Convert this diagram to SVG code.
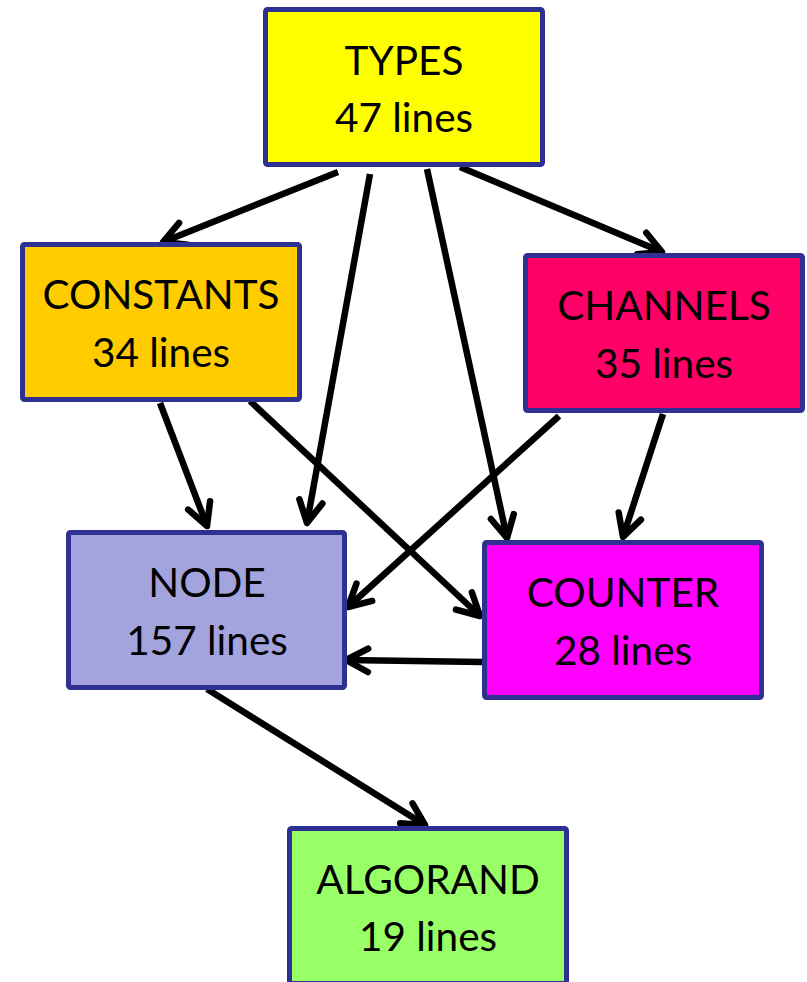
<svg xmlns="http://www.w3.org/2000/svg" width="807" height="982" viewBox="0 0 807 982">
  <style>
    .box { stroke: #2f3192; stroke-width: 5; }
    .label { font-family: Lato, "Open Sans", "Liberation Sans", sans-serif; font-size: 40.5px; fill: #000; text-anchor: middle; }
    .edge { stroke: #000; stroke-width: 6.5; fill: none; marker-end: url(#head); }
  </style>
  <defs>
    <marker id="head" markerUnits="userSpaceOnUse" orient="auto" refX="0" refY="0" markerWidth="40" markerHeight="40" overflow="visible">
      <path d="M -22 -11.7 L 0 0 L -22 11.7" fill="none" stroke="#000" stroke-width="6.5" stroke-linecap="round" stroke-linejoin="round"/>
    </marker>
  </defs>

  <rect width="807" height="982" fill="#ffffff"/>

  <g id="connectors">
    <line class="edge" x1="338" y1="172" x2="163" y2="242"/>
    <line class="edge" x1="370" y1="174" x2="307" y2="523"/>
    <line class="edge" x1="427" y1="169" x2="507" y2="538"/>
    <line class="edge" x1="460" y1="167" x2="662" y2="252"/>
    <line class="edge" x1="160" y1="403" x2="207" y2="526"/>
    <line class="edge" x1="250" y1="401" x2="480" y2="616"/>
    <line class="edge" x1="559" y1="416" x2="348" y2="607"/>
    <line class="edge" x1="663" y1="414" x2="623" y2="537"/>
    <line class="edge" x1="482" y1="662" x2="346" y2="660"/>
    <line class="edge" x1="207" y1="689" x2="425" y2="825"/>
  </g>

  <g id="types">
    <rect class="box" x="265.5" y="9.5" width="277" height="155" rx="2" fill="#ffff00"/>
    <text class="label" x="404" y="75">TYPES</text>
    <text class="label" x="404" y="132">47 lines</text>
  </g>

  <g id="constants">
    <rect class="box" x="22.5" y="244.5" width="277" height="155" rx="2" fill="#ffcc00"/>
    <text class="label" x="161" y="309">CONSTANTS</text>
    <text class="label" x="161" y="367">34 lines</text>
  </g>

  <g id="channels">
    <rect class="box" x="525.5" y="255.5" width="277" height="155" rx="2" fill="#ff0066"/>
    <text class="label" x="664" y="320">CHANNELS</text>
    <text class="label" x="664" y="378">35 lines</text>
  </g>

  <g id="node">
    <rect class="box" x="68.5" y="532.5" width="276" height="155" rx="2" fill="#a3a3de"/>
    <text class="label" x="207" y="597">NODE</text>
    <text class="label" x="207" y="655">157 lines</text>
  </g>

  <g id="counter">
    <rect class="box" x="484.5" y="542.5" width="277" height="155" rx="2" fill="#ff00ff"/>
    <text class="label" x="623" y="607">COUNTER</text>
    <text class="label" x="623" y="665">28 lines</text>
  </g>

  <g id="algorand">
    <rect class="box" x="289.5" y="828.5" width="277" height="155" rx="2" fill="#99ff66"/>
    <text class="label" x="428" y="894">ALGORAND</text>
    <text class="label" x="428" y="951">19 lines</text>
  </g>
</svg>
